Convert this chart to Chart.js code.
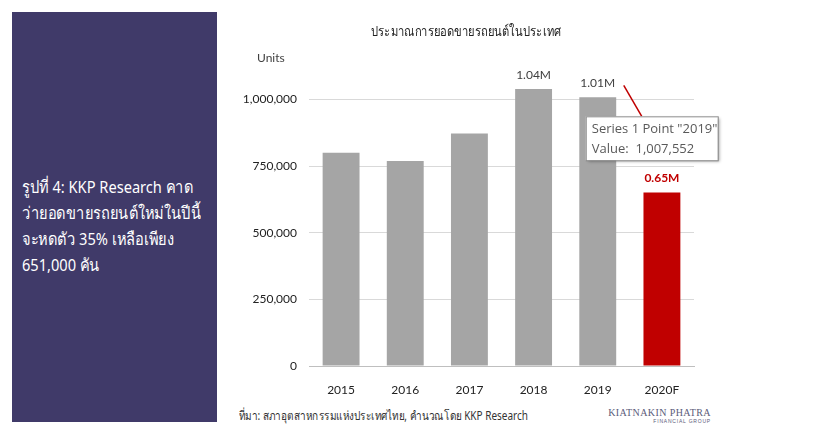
<!DOCTYPE html>
<html>
<head>
<meta charset="utf-8">
<script src="https://cdn.jsdelivr.net/npm/chart.js@4"></script>
<style>
  body { margin: 0; background: #fff; width: 815px; height: 435px; position: relative; overflow: hidden; }
  #panel { position: absolute; left: 12px; top: 12px; width: 205px; height: 410px; background: #403a69; }
  #panel p { position: absolute; left: 10px; top: 162px; margin: 0; color: #fff; font: 17px "Noto Sans", sans-serif; line-height: 26px; white-space: nowrap; transform: scaleX(0.86); transform-origin: left top; }
  #chart { position: absolute; left: 230px; top: 0; }
  #source { position: absolute; left: 239px; top: 406px; font: 12.5px "Noto Sans", sans-serif; color: #333; white-space: nowrap; transform: scaleX(0.8); transform-origin: left top; }
  #logo { position: absolute; left: 560px; top: 407px; width: 151px; text-align: right; color: #5b5b7a; white-space: nowrap; }
  #logo .a { font: 10px "Liberation Serif", serif; letter-spacing: 0.4px; }
  #logo .b { font: 5px "Liberation Sans", sans-serif; letter-spacing: 0.8px; margin-top: 0px; }
</style>
</head>
<body>
<div id="panel"><p>รูปที่ 4: KKP Research คาด<br>ว่ายอดขายรถยนต์ใหม่ในปีนี้<br>จะหดตัว 35% เหลือเพียง<br>651,000 คัน</p></div>
<canvas id="chart" width="585" height="400"></canvas>
<div id="source">ที่มา: สภาอุตสาหกรรมแห่งประเทศไทย, คำนวณโดย KKP Research</div>
<div id="logo"><div class="a">KIATNAKIN PHATRA</div><div class="b">FINANCIAL GROUP</div></div>
<script>
const years = ['2015', '2016', '2017', '2018', '2019', '2020F'];
const sales = [799632, 768788, 871650, 1039158, 1007552, 651000];
const barLabels = ['', '', '', '1.04M', '1.01M', '0.65M'];
const barColors = ['#a5a5a5', '#a5a5a5', '#a5a5a5', '#a5a5a5', '#a5a5a5', '#c00000'];
const yTicks = [0, 250000, 500000, 750000, 1000000];
const calloutIndex = 4;

const extras = {
    id: 'extras',
    afterDatasetsDraw(chart) {
        const ctx = chart.ctx;
        const meta = chart.getDatasetMeta(0);
        ctx.save();
        // title (narrow Thai face imitated with a horizontal squeeze)
        ctx.save();
        ctx.translate(236, 32);
        ctx.scale(0.8, 1);
        ctx.fillStyle = '#222';
        ctx.font = '14px "Noto Sans", sans-serif';
        ctx.textAlign = 'center';
        ctx.textBaseline = 'middle';
        ctx.fillText('ประมาณการยอดขายรถยนต์ในประเทศ', 0, 0);
        ctx.restore();
        ctx.textBaseline = 'middle';
        ctx.font = '12px Lato, sans-serif';
        ctx.fillStyle = '#404040';
        ctx.textAlign = 'left';
        ctx.fillText('Units', 27, 58);
        // value labels
        meta.data.forEach((bar, i) => {
            if (!barLabels[i]) return;
            const red = barColors[i] === '#c00000';
            ctx.font = (red ? 'bold ' : '') + '12px Lato, sans-serif';
            ctx.fillStyle = red ? '#c00000' : '#404040';
            ctx.textAlign = 'center';
            ctx.fillText(barLabels[i], bar.x, bar.y - 14);
        });
        // callout for 2019
        const b = meta.data[calloutIndex];
        ctx.strokeStyle = '#c00000';
        ctx.lineWidth = 1.5;
        ctx.beginPath();
        ctx.moveTo(b.x + 26, b.y - 12);
        ctx.lineTo(b.x + 44, b.y + 19);
        ctx.stroke();
        const bx = b.x - 12, by = b.y + 19, bw = 132, bh = 44;
        ctx.shadowColor = 'rgba(0,0,0,0.35)';
        ctx.shadowBlur = 3;
        ctx.shadowOffsetX = 2;
        ctx.shadowOffsetY = 2;
        ctx.fillStyle = '#fff';
        ctx.fillRect(bx, by, bw, bh);
        ctx.shadowColor = 'transparent';
        ctx.strokeStyle = '#8c8c8c';
        ctx.lineWidth = 1;
        ctx.strokeRect(bx + 0.5, by + 0.5, bw, bh);
        ctx.fillStyle = '#595959';
        ctx.font = '13px "Open Sans", sans-serif';
        ctx.textAlign = 'left';
        ctx.fillText('Series 1 Point "' + years[calloutIndex] + '"', bx + 6, by + 13);
        ctx.fillText('Value:  ' + sales[calloutIndex].toLocaleString('en-US'), bx + 6, by + 33);
        ctx.restore();
    }
};

new Chart('chart', {
    type: 'bar',
    data: {
        labels: years,
        datasets: [{
            data: sales,
            backgroundColor: barColors,
            categoryPercentage: 1,
            barPercentage: 0.575
        }]
    },
    options: {
        responsive: false,
        animation: false,
        devicePixelRatio: 1,
        layout: { padding: { top: 46, right: 121, left: 0, bottom: 0 } },
        plugins: { legend: { display: false }, tooltip: { enabled: false } },
        scales: {
            x: {
                grid: { display: false },
                border: { color: '#bfbfbf' },
                ticks: { color: '#222', font: { family: 'Lato', size: 12 }, padding: 9 },
                afterFit: s => { s.height = 34; }
            },
            y: {
                min: 0,
                max: 1200000,
                grid: { color: '#d9d9d9', drawTicks: false },
                border: { display: false },
                afterBuildTicks: s => { s.ticks = yTicks.map(v => ({ value: v })); },
                ticks: {
                    color: '#222',
                    font: { family: 'Lato', size: 12 },
                    padding: 12,
                    callback: v => v.toLocaleString('en-US')
                },
                afterFit: s => { s.width = 79; }
            }
        }
    },
    plugins: [extras]
});
</script>
</body>
</html>
